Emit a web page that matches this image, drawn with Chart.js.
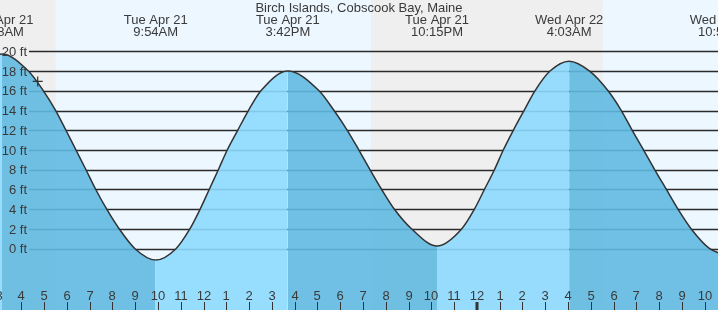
<!DOCTYPE html>
<html lang="en">
<head>
  <meta charset="UTF-8">
  <title>Birch Islands, Cobscook Bay, Maine - tides</title>
  <script src="https://cdn.jsdelivr.net/npm/chart.js"></script>
  <style>
    html, body { margin: 0; padding: 0; background: #fff; }
    #wrap { width: 718px; height: 310px; }
  </style>
</head>
<body>
  <div id="wrap"><canvas id="tideChart" width="718" height="310"></canvas></div>

  <script>
    // hours are counted from midnight starting Tue Apr 21
    const tideHours = [3.00, 3.15, 4.31, 4.97, 5.51, 5.96, 6.40, 6.84, 7.27, 7.75, 8.30, 8.99,
      9.90, 10.79, 11.40, 11.85, 12.25, 12.65, 13.04, 13.50, 13.97, 14.52,
      15.70, 17.07, 17.73, 18.31, 18.82, 19.31, 19.82, 20.38, 21.14,
      22.25, 23.33, 23.89, 24.33, 24.77, 25.16, 25.60, 26.07, 26.55, 27.21,
      28.05, 28.95, 29.76, 30.34, 30.82, 31.32, 31.81, 32.32, 32.83, 33.41, 34.22, 34.85];
    const tideFeet = [19.68, 19.73, 18, 16, 14, 12, 10, 8, 6, 4, 2, 0,
      -1.15, 0, 2, 4, 6, 8, 10, 12, 14, 16,
      18.0, 16, 14, 12, 10, 8, 6, 4, 2,
      0.27, 2, 4, 6, 8, 10, 12, 14, 16, 18,
      19.0, 18, 16, 14, 12, 10, 8, 6, 4, 2, 0, -0.6];

    // high / low labels along the top
    const extremeHours = [3.13, 9.90, 15.70, 22.25, 28.05, 34.85];
    const extremeDates = ['Tue Apr 21', 'Tue Apr 21', 'Tue Apr 21', 'Tue Apr 21', 'Wed Apr 22', 'Wed Apr 22'];
    const extremeTimes = ['3:08AM', '9:54AM', '3:42PM', '10:15PM', '4:03AM', '10:51AM'];

    // night shading (sunset -> sunrise)
    const nightStarts = [0, 19.35];
    const nightEnds = [5.51, 29.53];

    // current time marker
    const nowHour = [4.72];
    const nowFeet = [16.95];

    const footTicks = [0, 2, 4, 6, 8, 10, 12, 14, 16, 18, 20];
    const hourTicks = [3, 4, 5, 6, 7, 8, 9, 10, 11, 12, 13, 14, 15, 16, 17, 18, 19, 20,
      21, 22, 23, 24, 25, 26, 27, 28, 29, 30, 31, 32, 33, 34];
    const hourLabels = ['3', '4', '5', '6', '7', '8', '9', '10', '11', '12', '1', '2', '3', '4', '5', '6', '7', '8',
      '9', '10', '11', '12', '1', '2', '3', '4', '5', '6', '7', '8', '9', '10'];

    const title = 'Birch Islands, Cobscook Bay, Maine';
    const FONT = '13px "Liberation Sans", Arial, sans-serif';
    const TEXT = '#3a3a3a';
    const risingFill = 'rgba(141, 217, 253, 0.9)';
    const fallingFill = 'rgba(97, 185, 225, 0.9)';

    const tidePlugin = {
      id: 'tideDecor',
      beforeDraw(chart) {
        const { ctx, scales: { x } } = chart;
        ctx.save();
        ctx.fillStyle = '#edf7ff';
        ctx.fillRect(0, 0, chart.width, chart.height);
        ctx.fillStyle = '#efefef';
        nightStarts.forEach((s, i) => {
          const x0 = x.getPixelForValue(s);
          const x1 = x.getPixelForValue(nightEnds[i]);
          ctx.fillRect(x0, 0, x1 - x0, chart.height);
        });
        ctx.restore();
      },
      beforeDatasetsDraw(chart) {
        const { ctx, scales: { y } } = chart;
        ctx.save();
        ctx.strokeStyle = '#2a2a2a';
        ctx.lineWidth = 1.3;
        footTicks.forEach(f => {
          const py = Math.round(y.getPixelForValue(f)) + 0.5;
          ctx.beginPath();
          ctx.moveTo(29, py);
          ctx.lineTo(chart.width, py);
          ctx.stroke();
        });
        ctx.restore();
      },
      afterDatasetsDraw(chart) {
        const { ctx, scales: { x, y } } = chart;
        ctx.save();
        ctx.font = FONT;
        ctx.fillStyle = TEXT;
        ctx.textBaseline = 'alphabetic';

        // feet labels
        ctx.textAlign = 'right';
        footTicks.forEach(f => {
          ctx.fillText(f + ' ft', 27, y.getPixelForValue(f) + 4.7);
        });

        // hour ticks along the bottom
        ctx.textAlign = 'center';
        ctx.strokeStyle = '#333';
        hourTicks.forEach((h, i) => {
          const px = Math.round(x.getPixelForValue(h));
          ctx.fillText(hourLabels[i], px, 300);
          const midnight = h === 24;
          ctx.lineWidth = midnight ? 3 : 1;
          ctx.beginPath();
          ctx.moveTo(px + (midnight ? 0 : 0.5), 302);
          ctx.lineTo(px + (midnight ? 0 : 0.5), 310);
          ctx.stroke();
        });

        // title and high/low labels
        ctx.fillText(title, chart.width / 2, 12);
        extremeHours.forEach((h, i) => {
          const px = x.getPixelForValue(h);
          ctx.fillText(extremeDates[i], px, 24);
          ctx.fillText(extremeTimes[i], px, 36);
        });
        ctx.restore();
      }
    };

    const curvePoints = tideHours.map((h, i) => ({ x: h, y: tideFeet[i] }));
    const nowPoints = nowHour.map((h, i) => ({ x: h, y: nowFeet[i] }));

    new Chart(document.getElementById('tideChart'), {
      type: 'line',
      data: {
        datasets: [
          {
            data: nowPoints,
            showLine: false,
            pointStyle: 'cross',
            pointRadius: 5,
            borderColor: '#333',
            borderWidth: 1.2,
            order: 0
          },
          {
            data: curvePoints,
            borderColor: '#333',
            borderWidth: 1.5,
            pointRadius: 0,
            cubicInterpolationMode: 'monotone',
            fill: 'start',
            backgroundColor: fallingFill,
            segment: {
              backgroundColor: c => c.p1.parsed.y > c.p0.parsed.y ? risingFill : fallingFill
            },
            order: 1
          }
        ]
      },
      options: {
        responsive: false,
        animation: false,
        events: [],
        layout: { padding: 0, autoPadding: false },
        plugins: { legend: { display: false }, tooltip: { enabled: false } },
        scales: {
          x: { type: 'linear', display: false, min: 3.065, max: 34.585 },
          y: { display: false, min: -6.21, max: 25.2 }
        }
      },
      plugins: [tidePlugin]
    });
  </script>
</body>
</html>
